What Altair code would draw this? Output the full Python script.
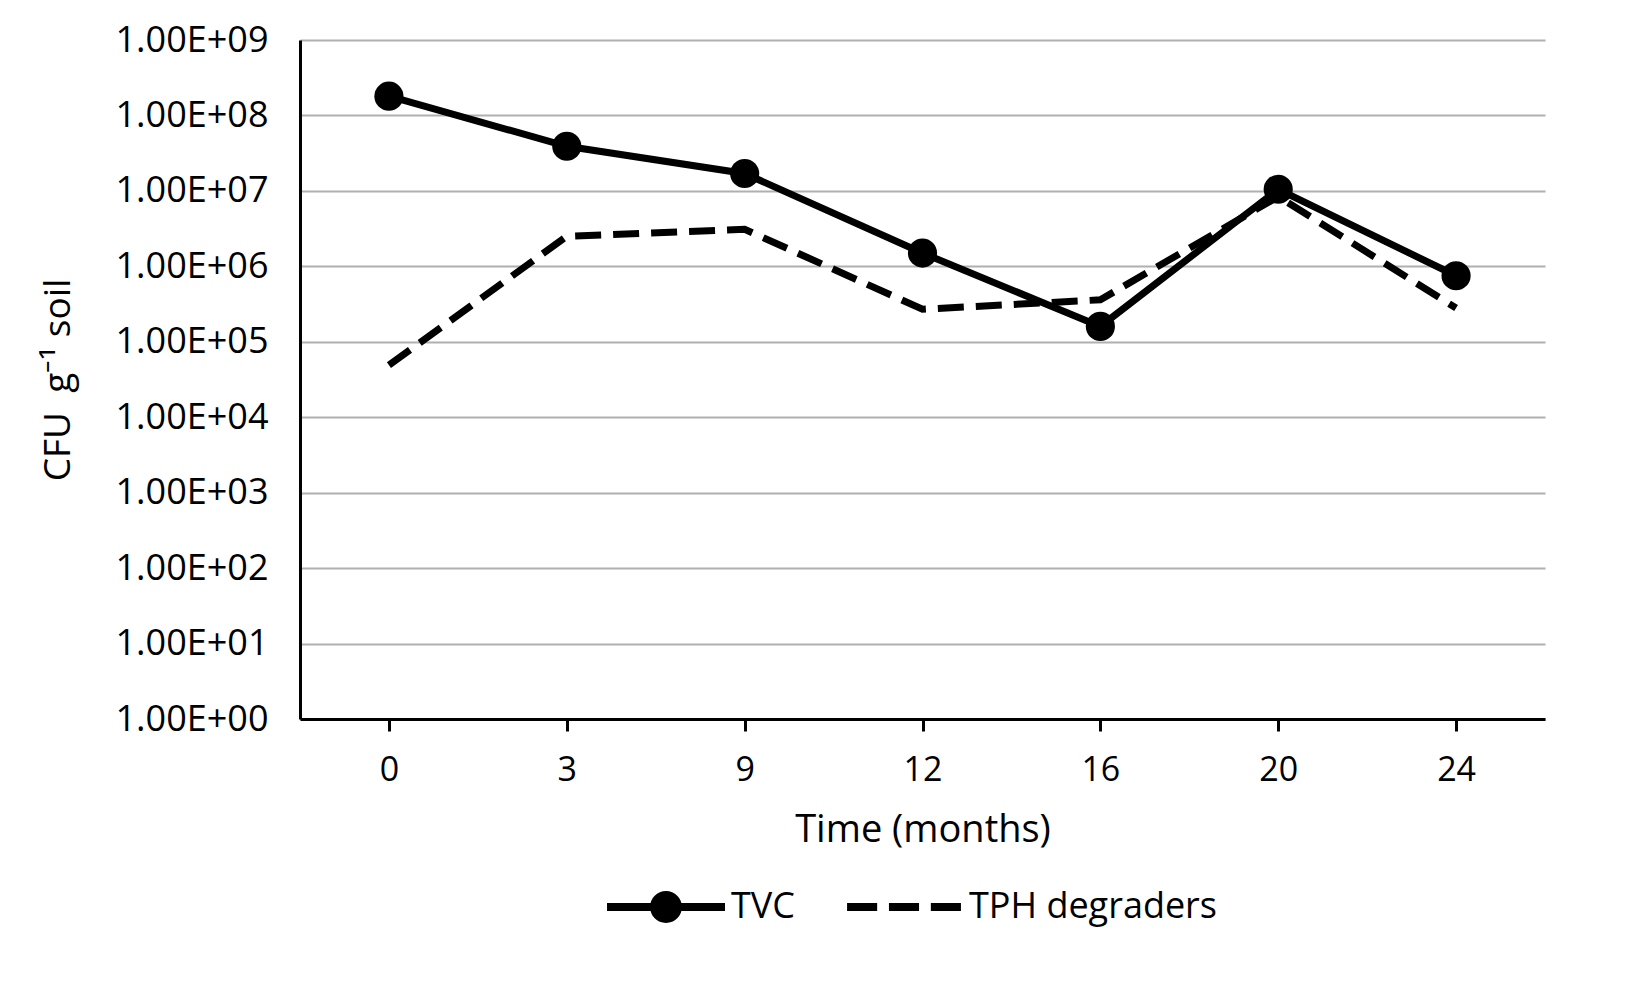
import altair as alt
import pandas as pd

months = ["0", "3", "9", "12", "16", "20", "24"]
tvc = [1.8e8, 3.9e7, 1.7e7, 1.5e6, 1.6e5, 1.05e7, 7.5e5]
tph = [4.9e4, 2.5e6, 3.1e6, 2.7e5, 3.6e5, 8.4e6, 2.8e5]
series_names = ["TVC", "TPH degraders"]
y_ticks = [10 ** i for i in range(10)]

rows = []
for m, a, b in zip(months, tvc, tph):
    rows.append({"month": m, "series": "TVC", "cfu": a})
    rows.append({"month": m, "series": "TPH degraders", "cfu": b})
df = pd.DataFrame(rows)

FONT = "Open Sans"

# legend symbols (unit coordinates, scaled by sqrt(symbolSize))
TVC_PATH = ("M-1,-0.068H1V0.068H-1Z "
            "M-0.27,0A0.27,0.27 0 1,1 0.27,0A0.27,0.27 0 1,1 -0.27,0Z")
TPH_PATH = ("M-0.965,-0.068H-0.455V0.068H-0.965Z "
            "M-0.255,-0.068H0.255V0.068H-0.255Z "
            "M0.455,-0.068H0.965V0.068H0.455Z")

x_enc = alt.X(
    "month:O",
    sort=months,
    scale=alt.Scale(type="point", padding=0.5),
    axis=alt.Axis(
        title="Time (months)",
        labelAngle=0,
        grid=False,
        domainColor="black",
        domainWidth=3,
        tickColor="black",
        tickWidth=3,
        tickSize=12,
        labelPadding=22,
        labelFontSize=34,
        labelFont=FONT,
        labelColor="black",
        titleFontSize=38,
        titleFont=FONT,
        titleFontWeight="normal",
        titleColor="black",
        titlePadding=24,
    ),
)

y_enc = alt.Y(
    "cfu:Q",
    scale=alt.Scale(type="log", domain=[1, 1e9], nice=False),
    axis=alt.Axis(
        title="CFU\u00a0\u00a0g\u207b\u00b9 soil",
        values=y_ticks,
        labelExpr="'1.00E+0' + format(log(datum.value)/LN10, '.0f')",
        ticks=False,
        grid=True,
        gridColor="#b0b0b0",
        gridWidth=2,
        domainColor="black",
        domainWidth=3,
        labelPadding=32,
        labelFontSize=36,
        labelFont=FONT,
        labelColor="black",
        titleFontSize=37,
        titleFont=FONT,
        titleFontWeight="normal",
        titleColor="black",
        titlePadding=38,
    ),
)

base = alt.Chart(df)

line_tvc = base.transform_filter(alt.datum.series == "TVC").mark_line(
    color="black", strokeWidth=7
).encode(x=x_enc, y=y_enc)

line_tph = base.transform_filter(alt.datum.series == "TPH degraders").mark_line(
    color="black", strokeWidth=7, strokeDash=[26, 12]
).encode(x=x_enc, y=y_enc)

points = base.transform_filter(alt.datum.series == "TVC").mark_point(
    filled=True, color="black", size=850, opacity=1
).encode(x=x_enc, y=y_enc)

legend_layer = base.mark_point(filled=True, color="black", opacity=0).encode(
    x=x_enc,
    y=y_enc,
    shape=alt.Shape(
        "series:N",
        scale=alt.Scale(domain=series_names, range=[TVC_PATH, TPH_PATH]),
        legend=alt.Legend(
            title=None,
            orient="none",
            legendX=307,
            legendY=808,
            direction="horizontal",
            symbolSize=13924,
            symbolOpacity=1,
            symbolFillColor="black",
            symbolStrokeWidth=0,
            labelFontSize=36,
            labelFont=FONT,
            labelColor="black",
            labelOffset=6,
            labelLimit=500,
            columnPadding=50,
        ),
    ),
)

chart = (
    alt.layer(line_tph, line_tvc, points, legend_layer)
    .properties(
        width=1245,
        height=679,
        autosize=alt.AutoSizeParams(type="none"),
        padding={"left": 292, "top": 32, "right": 75, "bottom": 262},
        background="white",
    )
    .configure_view(stroke=None)
)

chart.save("out.html", embed_options={"renderer": "svg", "actions": False})
